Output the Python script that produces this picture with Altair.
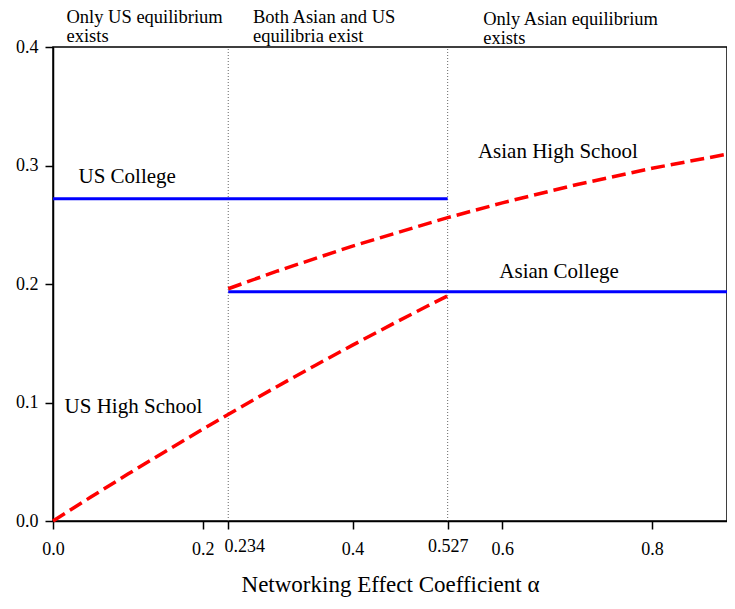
import altair as alt
import pandas as pd

# ---- data ----
us_hs_x = [0.0, 0.05, 0.1, 0.15, 0.2, 0.25, 0.3, 0.35, 0.4, 0.45, 0.5, 0.527]
us_hs_y = [0.0, 0.020, 0.0396, 0.0587, 0.0775, 0.0958, 0.1138, 0.1313, 0.1484, 0.1651, 0.1814, 0.190]

asia_hs_x = [0.234, 0.3, 0.4, 0.5, 0.527, 0.6, 0.7, 0.8, 0.9]
asia_hs_y = [0.196, 0.211, 0.232, 0.251, 0.256, 0.2685, 0.284, 0.2977, 0.3095]

us_col_x = [0.0, 0.527]
us_col_y = [0.272, 0.272]
asia_col_x = [0.234, 0.9]
asia_col_y = [0.1935, 0.1935]

thresholds = [0.234, 0.527]
x_ticks = [0.0, 0.2, 0.234, 0.4, 0.527, 0.6, 0.8]
y_ticks = [0.0, 0.1, 0.2, 0.3, 0.4]

curve_labels = ["US College", "Asian High School", "Asian College", "US High School"]
curve_label_x = [0.034, 0.5674, 0.596, 0.0155]
curve_label_y = [0.2856, 0.3067, 0.2054, 0.0915]

region_labels = ["Only US equilibrium\nexists", "Both Asian and US\nequilibria exist", "Only Asian equilibrium\nexists"]
region_label_x = [0.018, 0.267, 0.5745]
region_label_y = [0.4203, 0.4203, 0.4186]

FONT = "Liberation Serif"

# ---- frames ----
blue_df = pd.DataFrame({
    "x": us_col_x + asia_col_x,
    "y": us_col_y + asia_col_y,
    "s": ["US College"] * len(us_col_x) + ["Asian College"] * len(asia_col_x),
})
red_df = pd.DataFrame({
    "x": us_hs_x + asia_hs_x,
    "y": us_hs_y + asia_hs_y,
    "s": ["US High School"] * len(us_hs_x) + ["Asian High School"] * len(asia_hs_x),
})
rule_df = pd.DataFrame({"x": thresholds, "y": [0.0] * len(thresholds), "y2": [0.4] * len(thresholds)})
lab_df = pd.DataFrame({"x": curve_label_x, "y": curve_label_y, "t": curve_labels})
reg_df = pd.DataFrame({"x": region_label_x, "y": region_label_y, "t": region_labels})

x_axis = alt.Axis(
    values=x_ticks,
    labelExpr="abs(datum.value-0.234)<0.0001 ? '0.234' : abs(datum.value-0.527)<0.0001 ? '0.527' : format(datum.value, '.1f')",
    labelOverlap=False,
    labelFlush=False,
    grid=False,
    tickSize=8,
    labelPadding={"condition": {"test": "abs(datum.value-0.234)<0.0001 || abs(datum.value-0.527)<0.0001", "value": 8}, "value": 11},
    labelOffset={"condition": {"test": "abs(datum.value-0.234)<0.0001", "value": 16}, "value": 0},
    title="Networking Effect Coefficient α",
    titlePadding=15,
)
y_axis = alt.Axis(
    values=y_ticks,
    format=".1f",
    grid=False,
    tickSize=8,
    labelPadding=7,
    title=None,
)

xenc = alt.X("x:Q", scale=alt.Scale(domain=[0, 0.9], nice=False, zero=False), axis=x_axis)
yenc = alt.Y("y:Q", scale=alt.Scale(domain=[0, 0.4], nice=False, zero=False), axis=y_axis)

rules = alt.Chart(rule_df).mark_rule(color="#666666", strokeWidth=1, strokeDash=[1, 2]).encode(
    x=xenc, y=yenc, y2="y2:Q"
)
blue = alt.Chart(blue_df).mark_line(color="#0000ff", strokeWidth=3).encode(
    x=xenc, y=yenc, detail="s:N"
)
red = alt.Chart(red_df).mark_line(color="#ff0000", strokeWidth=3.5, strokeDash=[14, 6]).encode(
    x=xenc, y=yenc, detail="s:N"
)
labels = alt.Chart(lab_df).mark_text(
    font=FONT, fontSize=21, align="left", baseline="alphabetic", color="black"
).encode(x=xenc, y=yenc, text="t:N")
regions = alt.Chart(reg_df).mark_text(
    font=FONT, fontSize=18.5, align="left", baseline="alphabetic", color="black",
    lineBreak="\n", lineHeight=19,
).encode(x=xenc, y=yenc, text="t:N")

chart = alt.layer(rules, blue, red, labels, regions).properties(
    width=674,
    height=474,
    autosize=alt.AutoSizeParams(type="none"),
    padding={"left": 45, "top": 39, "right": 0, "bottom": 76},
).configure_view(
    stroke="black", strokeWidth=1.5
).configure_axis(
    domainColor="black", domainWidth=1.5, tickColor="black", tickWidth=1.5,
    labelFont=FONT, labelFontSize=18, labelColor="black",
    titleFont=FONT, titleFontSize=23, titleFontWeight="normal", titleColor="black",
)

chart.save("out.html", embed_options={"renderer": "svg", "actions": False})
